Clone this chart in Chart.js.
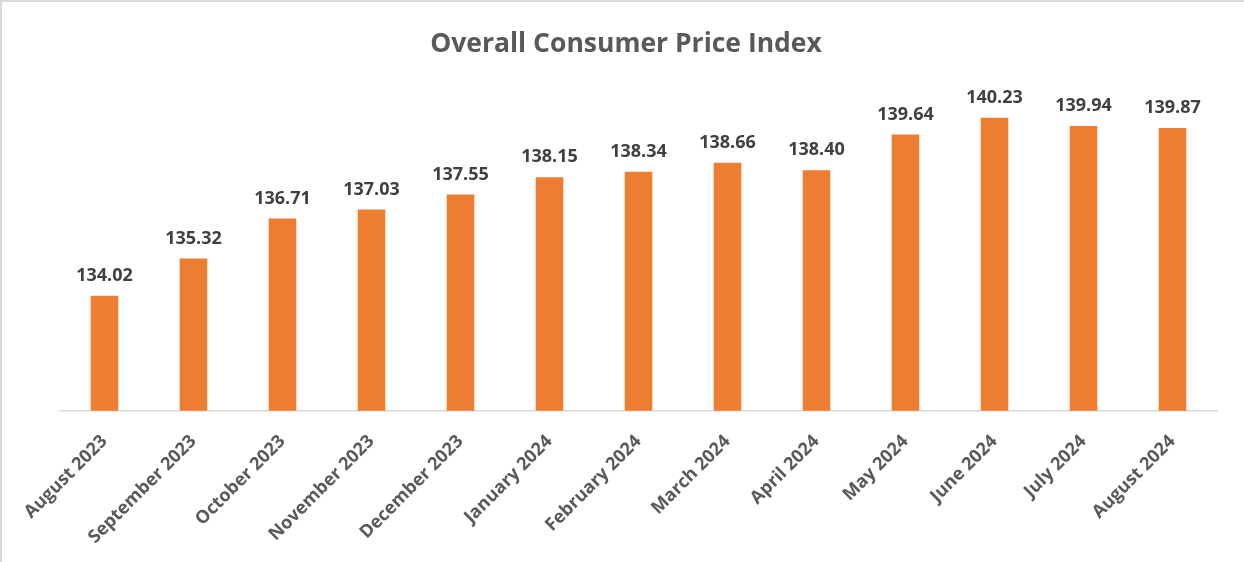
<!DOCTYPE html>
<html>
<head>
    <title>Overall Consumer Price Index</title>
    <style>
        body {
            margin: 0;
            background-color: #ffffff;
        }

        .chart-box {
            position: relative;
            width: 1242px;
            height: 560px;
            border-top: 2px solid #d9d9d9;
            border-left: 2px solid #d9d9d9;
        }
    </style>
    <script src="https://cdn.jsdelivr.net/npm/chart.js@4.4.1/dist/chart.umd.min.js"></script>
</head>
<body>
    <div class="chart-box">
        <canvas id="cpiChart" width="1242" height="560"></canvas>
    </div>

    <script>
        // Values
        const months = [
            'August 2023', 'September 2023', 'October 2023', 'November 2023',
            'December 2023', 'January 2024', 'February 2024', 'March 2024',
            'April 2024', 'May 2024', 'June 2024', 'July 2024', 'August 2024'
        ];
        const cpiValues = [
            134.02, 135.32, 136.71, 137.03, 137.55, 138.15, 138.34,
            138.66, 138.40, 139.64, 140.23, 139.94, 139.87
        ];
        const axisMin = 130;
        const axisMax = 142;
        const chartTitle = 'Overall Consumer Price Index';

        const FONT = '"Open Sans", sans-serif';

        // value above each bar + title centred on the whole canvas
        const valueLabels = {
            id: 'valueLabels',
            afterDatasetsDraw(chart) {
                const ctx = chart.ctx;
                const meta = chart.getDatasetMeta(0);
                ctx.save();
                ctx.font = 'bold 18px ' + FONT;
                ctx.fillStyle = '#404040';
                ctx.textAlign = 'center';
                ctx.textBaseline = 'bottom';
                meta.data.forEach(function(bar, i) {
                    ctx.fillText(cpiValues[i].toFixed(2), bar.x, bar.y - 11);
                });

                ctx.font = 'bold 26.5px ' + FONT;
                ctx.fillStyle = '#595959';
                ctx.textBaseline = 'middle';
                ctx.fillText(chartTitle, chart.width / 2 + 3, 42);
                ctx.restore();
            }
        };

        const chart = new Chart(document.getElementById('cpiChart'), {
            type: 'bar',
            data: {
                labels: months,
                datasets: [{
                    label: 'CPI',
                    data: cpiValues,
                    backgroundColor: '#ED7D31',
                    borderWidth: 0,
                    categoryPercentage: 1,
                    barPercentage: 0.31
                }]
            },
            options: {
                responsive: false,
                animation: false,
                layout: {
                    padding: { left: 58, right: 27, top: 65, bottom: 2 }
                },
                plugins: {
                    legend: { display: false },
                    tooltip: { enabled: false },
                    title: { display: false }
                },
                scales: {
                    x: {
                        grid: { display: false },
                        border: { display: true, color: '#d9d9d9', width: 1.5 },
                        ticks: {
                            color: '#595959',
                            font: { family: FONT, size: 18, weight: 'bold' },
                            maxRotation: 45,
                            minRotation: 45,
                            padding: 12,
                            autoSkip: false
                        }
                    },
                    y: {
                        display: false,
                        min: axisMin,
                        max: axisMax
                    }
                }
            },
            plugins: [valueLabels]
        });
    </script>
</body>
</html>
